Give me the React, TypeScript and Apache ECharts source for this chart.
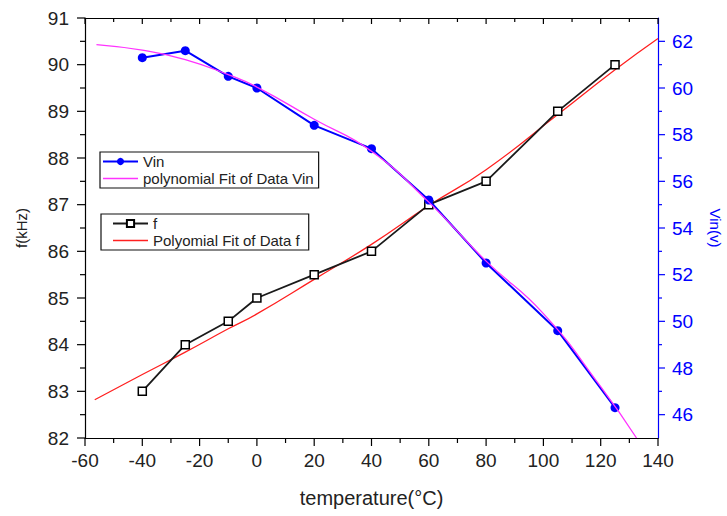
import { useEffect, useRef } from 'react';
import * as echarts from 'echarts';

const temps = [-40, -25, -10, 0, 20, 40, 60, 80, 105, 125];
const fValues = [83, 84, 84.5, 85, 85.5, 86, 87, 87.5, 89, 90];
const vinValues = [61.3, 61.6, 60.5, 60.0, 58.4, 57.4, 55.2, 52.5, 49.6, 46.3];

const vinFitTemps = [-56, -40, -25, -10, 0, 20, 40, 60, 80, 100, 120, 132.5];
const vinFitValues = [61.86, 61.62, 61.22, 60.57, 60.04, 58.66, 57.29, 55.11, 52.58, 50.33, 47.2, 45.0];

const fFitTemps = [-56.6, -40, -25, -10, 0, 20, 40, 60, 80, 105, 125, 140];
const fFitValues = [82.82, 83.36, 83.84, 84.34, 84.66, 85.4, 86.15, 86.98, 87.75, 88.93, 89.89, 90.56];

const tempMajorTicks = [-60, -40, -20, 0, 20, 40, 60, 80, 100, 120, 140];
const tempMinorTicks = [-50, -30, -10, 10, 30, 50, 70, 90, 110, 130];
const fMajorTicks = [82, 83, 84, 85, 86, 87, 88, 89, 90, 91];
const fMinorTicks = [82.5, 83.5, 84.5, 85.5, 86.5, 87.5, 88.5, 89.5, 90.5];
const vinMajorTicks = [46, 48, 50, 52, 54, 56, 58, 60, 62];
const vinMinorTicks = [47, 49, 51, 53, 55, 57, 59, 61];

const X_MIN = -60;
const X_MAX = 140;
const F_MIN = 82;
const F_MAX = 91;
const VIN_MIN = 45;
const VIN_MAX = 63;

const FONT = "'Liberation Sans', Arial, sans-serif";
const LINE_ICON = 'path://M0,0 L35,0 L35,1.4 L0,1.4 Z';

export default function App() {
  const ref = useRef<HTMLDivElement>(null);
  useEffect(() => {
    if (!ref.current) return;
    const chart = echarts.init(ref.current, null, { renderer: 'svg' });
    const pairs = (xs: number[], ys: number[]) => xs.map((x, i) => [x, ys[i]]);
    const tickData = (major: number[], minor: number[]) =>
      major.map((v) => [v, 1]).concat(minor.map((v) => [v, 0]));
    const legendText = { fontSize: 15, color: '#222', fontFamily: FONT };
    const black = { color: '#000', width: 1.2 };
    const blue = { color: '#0000ff', width: 1.2 };
    const seg = (x1: number, y1: number, x2: number, y2: number, stroke: string) => ({
      type: 'line',
      shape: { x1, y1, x2, y2 },
      style: { stroke, lineWidth: 1.2 },
    });

    chart.setOption({
      animation: false,
      backgroundColor: '#fff',
      textStyle: { fontFamily: FONT },
      grid: { left: 85, right: 69, top: 18, bottom: 78, containLabel: false, outerBoundsMode: 'none' },
      legend: [
        {
          data: ['Vin', { name: 'polynomial Fit of Data Vin', icon: LINE_ICON }],
          orient: 'vertical',
          left: 100,
          top: 152,
          itemWidth: 35,
          itemHeight: 9,
          itemGap: 2,
          padding: [2, 5, 2, 2],
          borderColor: '#111',
          borderWidth: 1.2,
          textStyle: legendText,
        },
        {
          data: ['f', { name: 'Polyomial Fit of Data f', icon: LINE_ICON }],
          orient: 'vertical',
          left: 101,
          top: 214,
          itemWidth: 35,
          itemHeight: 9,
          itemGap: 2,
          padding: [2, 9, 2, 11],
          borderColor: '#111',
          borderWidth: 1.2,
          textStyle: legendText,
        },
      ],
      xAxis: [
        {
          type: 'value',
          position: 'bottom',
          min: X_MIN,
          max: X_MAX,
          interval: 20,
          axisLine: { show: true, onZero: false, lineStyle: black },
          axisTick: { show: false },
          minorTick: { show: false },
          axisLabel: { show: true, color: '#222', fontSize: 19, fontFamily: FONT, margin: 13 },
          splitLine: { show: false },
          name: 'temperature(°C)',
          nameLocation: 'middle',
          nameGap: 50,
          nameTextStyle: { color: '#222', fontSize: 20, fontFamily: FONT },
        },
        {
          type: 'value',
          position: 'top',
          min: X_MIN,
          max: X_MAX,
          interval: 20,
          axisLine: { show: true, onZero: false, lineStyle: black },
          axisTick: { show: false },
          minorTick: { show: false },
          axisLabel: { show: false },
          splitLine: { show: false },
        },
      ],
      yAxis: [
        {
          type: 'value',
          position: 'left',
          min: F_MIN,
          max: F_MAX,
          interval: 1,
          axisLine: { show: true, onZero: false, lineStyle: black },
          axisTick: { show: false },
          minorTick: { show: false },
          axisLabel: { show: true, color: '#222', fontSize: 19, fontFamily: FONT, margin: 16 },
          splitLine: { show: false },
          name: 'f(kHz)',
          nameLocation: 'middle',
          nameGap: 56,
          nameRotate: 90,
          nameTextStyle: { color: '#222', fontSize: 15, fontFamily: FONT },
        },
        {
          type: 'value',
          position: 'right',
          min: VIN_MIN,
          max: VIN_MAX,
          axisLine: { show: true, onZero: false, lineStyle: blue },
          axisTick: { show: false },
          axisLabel: { show: true, color: '#0000ff', fontSize: 19, fontFamily: FONT, margin: 14, customValues: vinMajorTicks },
          splitLine: { show: false },
          name: 'Vin(v)',
          nameLocation: 'middle',
          nameGap: 50,
          nameRotate: -90,
          nameTextStyle: { color: '#0000ff', fontSize: 15, fontFamily: FONT },
        },
      ],
      series: [
        {
          name: 'Vin',
          type: 'line',
          yAxisIndex: 1,
          data: pairs(temps, vinValues),
          symbol: 'circle',
          symbolSize: 9,
          lineStyle: { color: '#0000ff', width: 2 },
          itemStyle: { color: '#0000ff' },
          z: 4,
        },
        {
          name: 'polynomial Fit of Data Vin',
          type: 'line',
          yAxisIndex: 1,
          data: pairs(vinFitTemps, vinFitValues),
          symbol: 'none',
          smooth: true,
          lineStyle: { color: '#ff33ff', width: 1.3 },
          itemStyle: { color: '#ff33ff' },
          z: 5,
        },
        {
          name: 'f',
          type: 'line',
          yAxisIndex: 0,
          data: pairs(temps, fValues),
          symbol: 'rect',
          symbolSize: 8,
          lineStyle: { color: '#1a1a1a', width: 1.8 },
          itemStyle: { color: '#fff', borderColor: '#000', borderWidth: 1.5 },
          z: 3,
        },
        {
          name: 'Polyomial Fit of Data f',
          type: 'line',
          yAxisIndex: 0,
          data: pairs(fFitTemps, fFitValues),
          symbol: 'none',
          smooth: true,
          lineStyle: { color: '#ff2020', width: 1.3 },
          itemStyle: { color: '#ff2020' },
          z: 2,
        },
        {
          name: 'tempTicks',
          type: 'custom',
          xAxisIndex: 0,
          yAxisIndex: 0,
          silent: true,
          clip: false,
          encode: { x: 0 },
          data: tickData(tempMajorTicks, tempMinorTicks),
          renderItem: (_p: any, api: any) => {
            const v = api.value(0);
            const major = api.value(1) === 1;
            const b = api.coord([v, F_MIN]);
            const t = api.coord([v, F_MAX]);
            return {
              type: 'group',
              children: [
                seg(b[0], b[1], b[0], b[1] + (major ? 8 : 5), '#000'),
                seg(t[0], t[1], t[0], t[1] + (major ? 6 : 4), '#000'),
              ],
            };
          },
          z: 6,
        },
        {
          name: 'fTicks',
          type: 'custom',
          xAxisIndex: 0,
          yAxisIndex: 0,
          silent: true,
          clip: false,
          encode: { y: 0 },
          data: tickData(fMajorTicks, fMinorTicks),
          renderItem: (_p: any, api: any) => {
            const v = api.value(0);
            const major = api.value(1) === 1;
            const l = api.coord([X_MIN, v]);
            return seg(l[0] - (major ? 8 : 5), l[1], l[0], l[1], '#000');
          },
          z: 6,
        },
        {
          name: 'vinTicks',
          type: 'custom',
          xAxisIndex: 0,
          yAxisIndex: 1,
          silent: true,
          clip: false,
          encode: { y: 0 },
          data: tickData(vinMajorTicks, vinMinorTicks),
          renderItem: (_p: any, api: any) => {
            const v = api.value(0);
            const major = api.value(1) === 1;
            const r = api.coord([X_MAX, v]);
            return seg(r[0], r[1], r[0] + (major ? 7 : 4), r[1], '#0000ff');
          },
          z: 6,
        },
      ],
    });
    return () => chart.dispose();
  }, []);
  return <div ref={ref} style={{ width: 727, height: 516, position: 'absolute', left: 0, top: 0 }} />;
}
